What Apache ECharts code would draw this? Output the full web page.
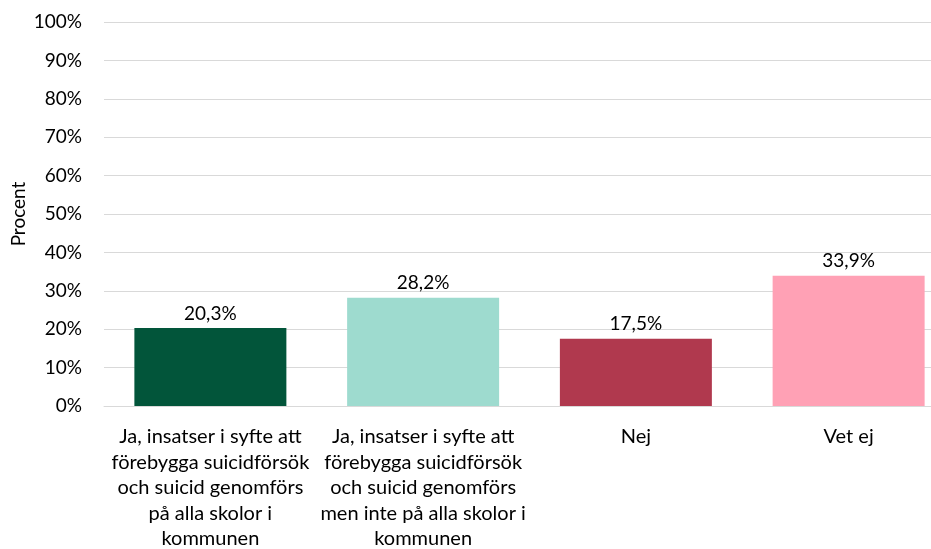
<!DOCTYPE html>
<html>
<head>
<meta charset="utf-8">
<script src="https://cdn.jsdelivr.net/npm/echarts@6/dist/echarts.min.js"></script>
<style>
  html, body { margin: 0; padding: 0; background: #fff; overflow: hidden; }
  #chart { width: 931px; height: 549px; }
</style>
</head>
<body>
<div id="chart"></div>
<script>
const categories = [
  'Ja, insatser i syfte att\nförebygga suicidförsök\noch suicid genomförs\npå alla skolor i\nkommunen',
  'Ja, insatser i syfte att\nförebygga suicidförsök\noch suicid genomförs\nmen inte på alla skolor i\nkommunen',
  'Nej',
  'Vet ej'
]
const values = [20.3, 28.2, 17.5, 33.9]
const barColors = ['#02553A', '#9EDBCF', '#B0394E', '#FFA1B5']

const fontFamily = 'Lato, "Open Sans", sans-serif'

const chart = echarts.init(document.getElementById('chart'))

const option = {
  animation: false,
  textStyle: { fontFamily },
  // plot area runs past the right edge, as in the original crop
  grid: { left: 104, top: 22, width: 851, bottom: 143, containLabel: false, outerBoundsMode: 'none' },
  xAxis: {
    type: 'category',
    data: categories,
    axisTick: { show: false },
    axisLine: { lineStyle: { color: '#d9d9d9', width: 1 } },
    axisLabel: {
      interval: 0,
      color: '#000',
      fontSize: 20,
      lineHeight: 25.5,
      margin: 18,
      fontFamily
    }
  },
  yAxis: {
    type: 'value',
    min: 0,
    max: 100,
    interval: 10,
    name: 'Procent',
    nameLocation: 'middle',
    nameGap: 76,
    nameMoveOverlap: false,
    nameTextStyle: { color: '#000', fontSize: 19, fontFamily },
    axisLabel: {
      formatter: '{value}%',
      color: '#000',
      fontSize: 19,
      margin: 22,
      fontFamily
    },
    splitLine: { lineStyle: { color: '#d9d9d9', width: 1 } }
  },
  series: [
    {
      type: 'bar',
      barWidth: 152,
      data: values.map((v, i) => ({ value: v, itemStyle: { color: barColors[i] } })),
      label: {
        show: true,
        position: 'top',
        distance: 5,
        color: '#000',
        fontSize: 19,
        fontFamily,
        formatter: p => p.value.toFixed(1).replace('.', ',') + '%'
      }
    }
  ]
}

chart.setOption(option)
</script>
</body>
</html>
